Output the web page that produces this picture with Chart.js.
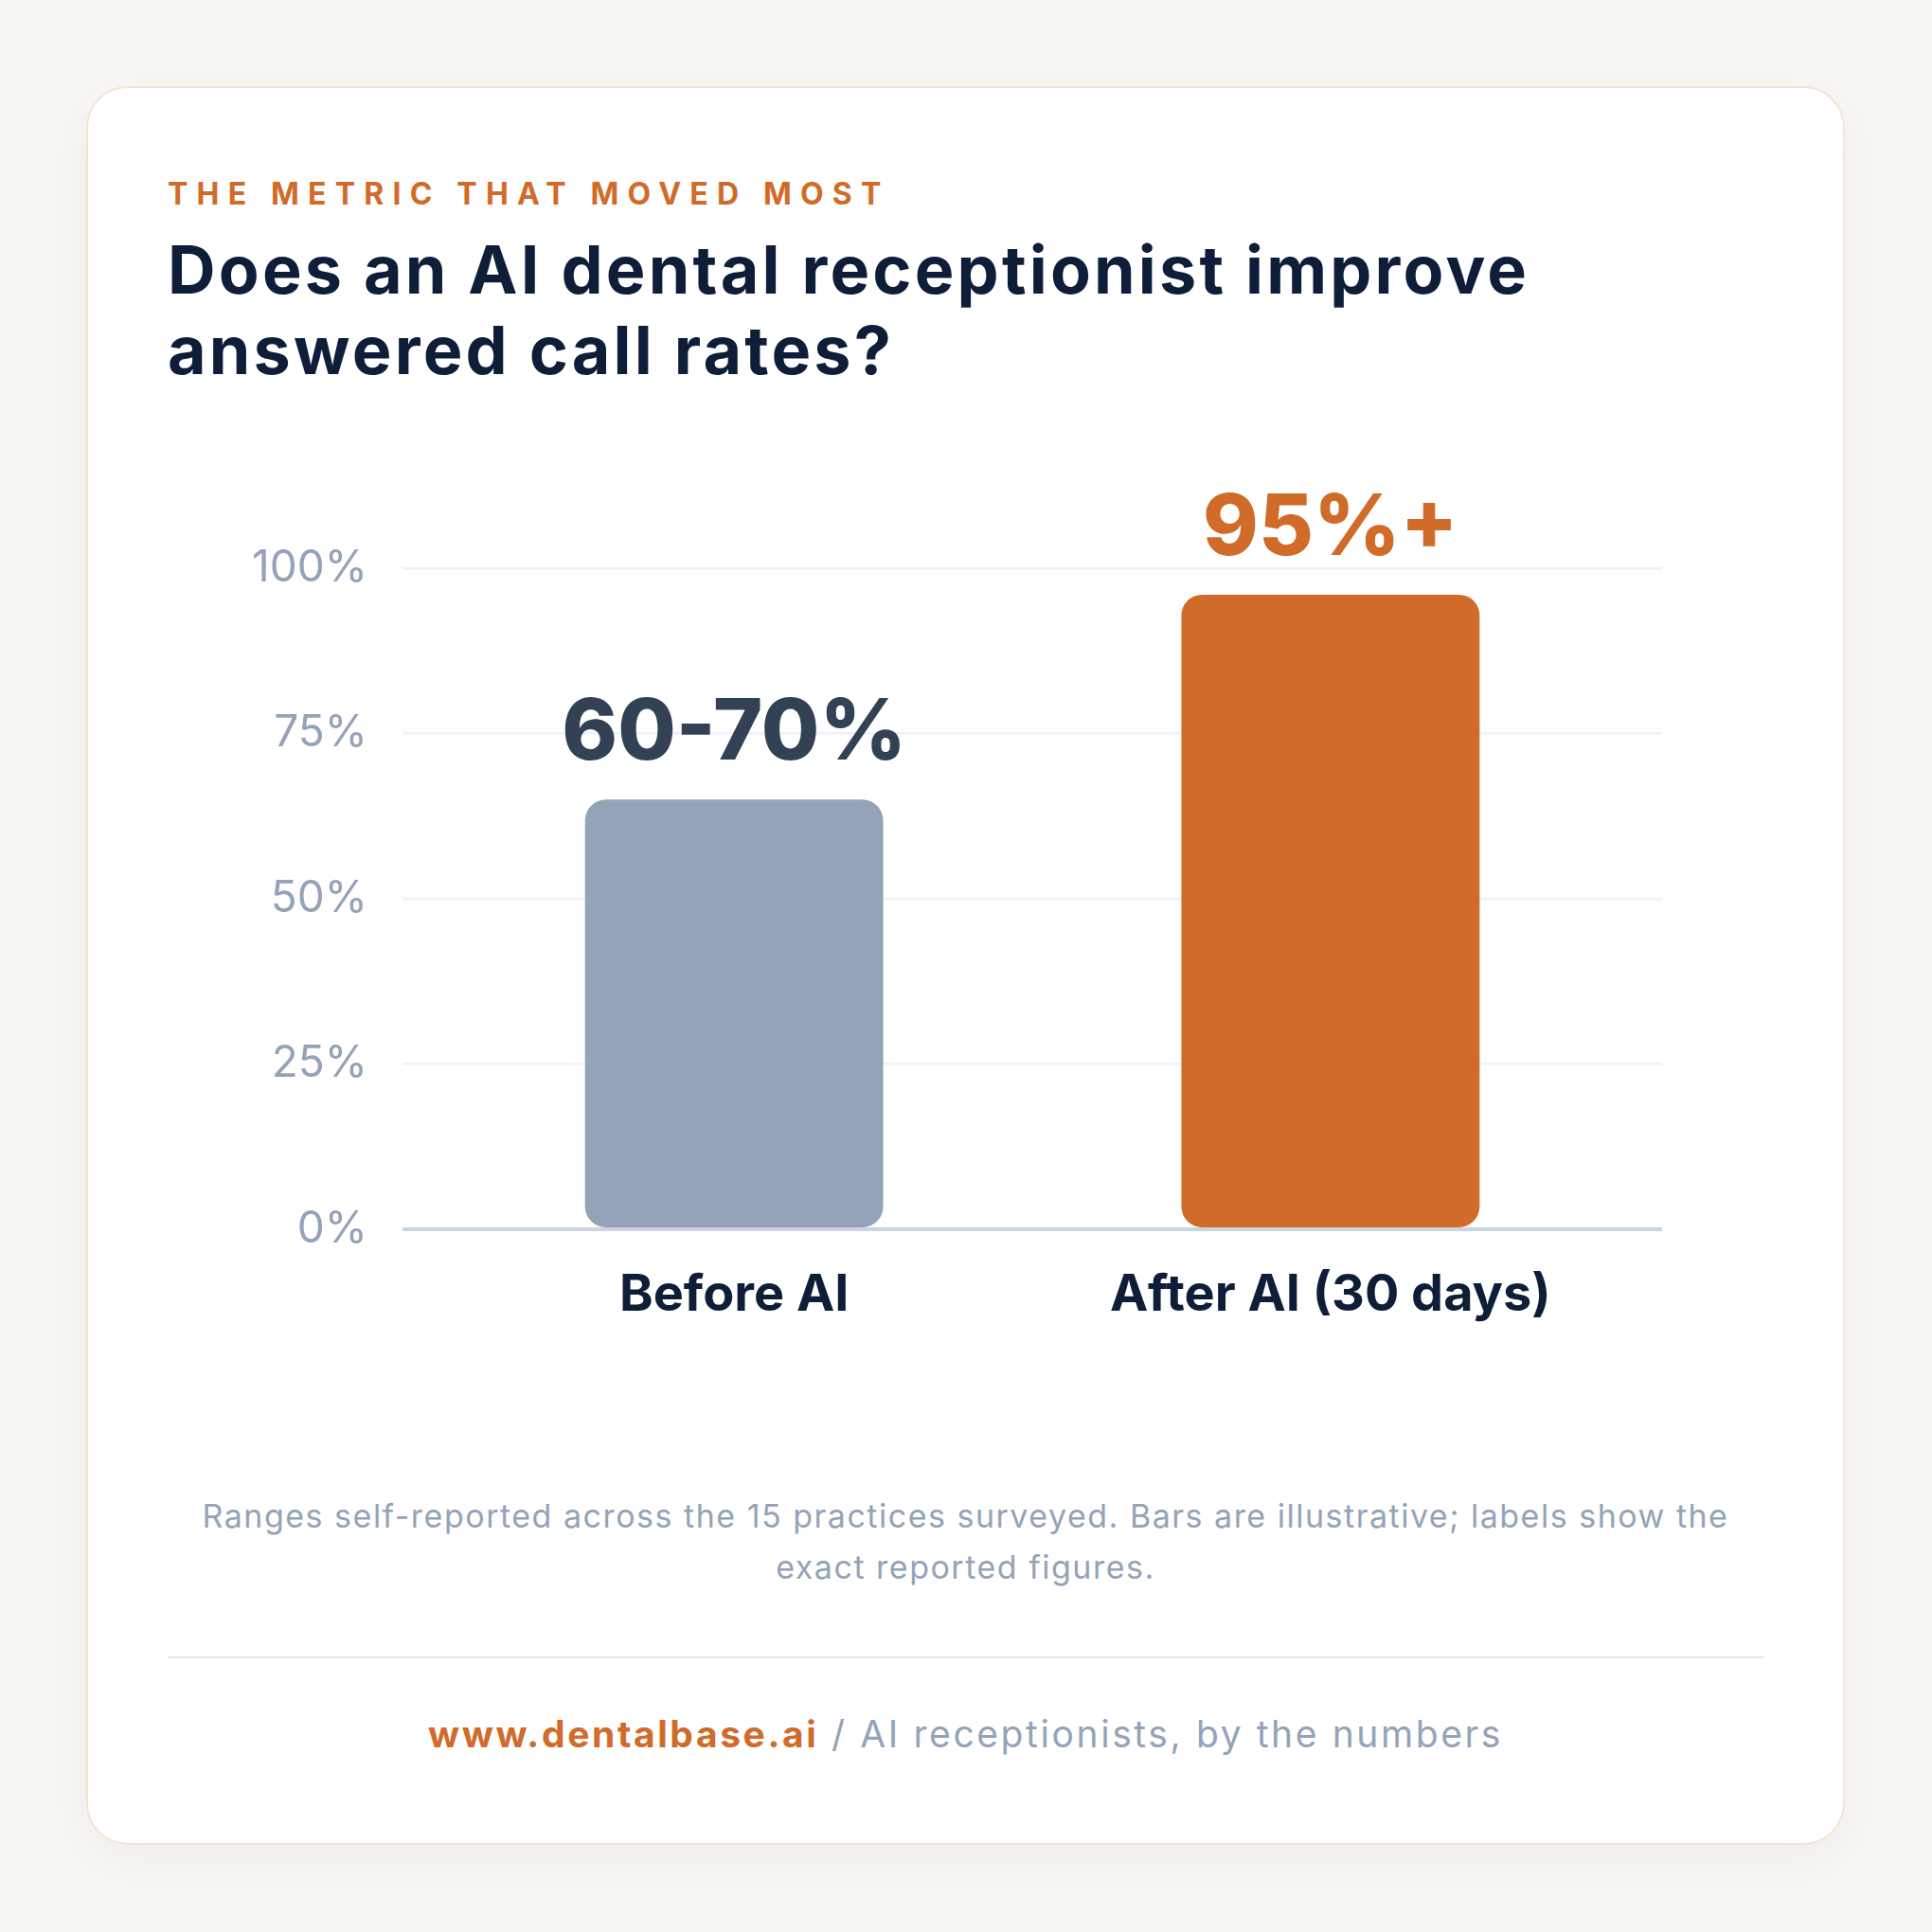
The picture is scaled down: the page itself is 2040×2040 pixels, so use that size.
<!DOCTYPE html>
<html>
<head>
<meta charset="utf-8">
<script src="https://cdn.jsdelivr.net/npm/chart.js@4.4.1/dist/chart.umd.min.js"></script>
<style>
  html, body { margin: 0; padding: 0; }
  body { width: 2040px; height: 2040px; background: #f8f7f4; position: relative; overflow: hidden; font-family: Inter, "Open Sans", sans-serif; }
  .card { position: absolute; left: 91px; top: 91px; width: 1853px; height: 1853px; background: #fff;
          border: 2px solid #f4e4d2; border-radius: 44px; box-shadow: 0 16px 50px rgba(60,40,20,0.05); }
  .kicker { position: absolute; left: 177px; top: 189px; font-size: 32px; line-height: 32px; font-weight: 700;
            letter-spacing: 9.2px; color: #d06b29; white-space: nowrap; }
  .title { position: absolute; left: 177px; top: 242px; font-size: 70px; line-height: 85px; font-weight: 700;
           color: #0f1e38; white-space: nowrap; letter-spacing: 3.2px; }
  .note { position: absolute; left: 91px; width: 1857px; top: 1574px; text-align: center; font-size: 34px;
          line-height: 54px; color: #94a3b8; white-space: nowrap; letter-spacing: 1.5px; }
  .rule { position: absolute; left: 177px; width: 1686px; top: 1749px; height: 2px; background: #f0e5d8; }
  .foot { position: absolute; left: 91px; width: 1857px; top: 1811px; text-align: center; font-size: 39px;
          line-height: 39px; color: #94a3b8; white-space: nowrap; letter-spacing: 2.6px; }
  .foot b { color: #d06b29; font-weight: 700; }
  #wrap { position: absolute; left: 0; top: 0; width: 2040px; height: 2040px; }
</style>
</head>
<body>
<div class="card"></div>
<div class="kicker">THE METRIC THAT MOVED MOST</div>
<div class="title">Does an AI dental receptionist improve<br>answered call rates?</div>
<div class="note">Ranges self-reported across the 15 practices surveyed. Bars are illustrative; labels show the<br>exact reported figures.</div>
<div class="rule"></div>
<div class="foot"><b>www.dentalbase.ai</b> / AI receptionists, by the numbers</div>
<div id="wrap"><canvas id="myChart"></canvas></div>

<script>
const categories = ['Before AI', 'After AI (30 days)'];
const barValues = [65, 96];
const valueLabels = ['60-70%', '95%+'];
const barColors = ['#94a3b8', '#d06b29'];
const labelColors = ['#334155', '#d06b29'];
const FONT = 'Inter, "Open Sans", sans-serif';

// labels above the bars
const valueLabelPlugin = {
  id: 'valueLabels',
  afterDatasetsDraw(chart) {
    const ctx = chart.ctx;
    const meta = chart.getDatasetMeta(0);
    ctx.save();
    ctx.font = '800 89px ' + FONT;
    ctx.textAlign = 'center';
    ctx.textBaseline = 'alphabetic';
    meta.data.forEach((bar, i) => {
      ctx.fillStyle = labelColors[i];
      ctx.fillText(valueLabels[i], bar.x, bar.y - 42);
    });
    ctx.restore();
  }
};

const chartEl = document.getElementById('myChart');
const myChart = new Chart(chartEl, {
  type: 'bar',
  data: {
    datasets: [{
      data: barValues.map((v, i) => ({ x: i, y: v })),
      backgroundColor: barColors,
      borderRadius: 22,
      borderSkipped: false,
      barPercentage: 0.5,
      categoryPercentage: 1
    }]
  },
  options: {
    responsive: true,
    maintainAspectRatio: false,
    animation: false,
    layout: { padding: { left: 200, right: 285, top: 600, bottom: 642 } },
    plugins: { legend: { display: false }, tooltip: { enabled: false } },
    scales: {
      x: {
        type: 'linear',
        offset: false,
        min: -0.556,
        max: 1.556,
        afterBuildTicks: (scale) => { scale.ticks = categories.map((c, i) => ({ value: i })); },
        afterFit: (scale) => { scale.height = 100; },
        grid: { display: false },
        border: { display: false },
        ticks: {
          callback: (v) => categories[v],
          autoSkip: false,
          maxRotation: 0,
          padding: 29,
          color: '#0f1e38',
          font: { family: FONT, size: 54, weight: '700' }
        }
      },
      y: {
        min: 0,
        max: 100,
        afterFit: (scale) => { scale.width = 225; },
        border: { display: false },
        grid: {
          drawTicks: false,
          color: (c) => c.tick.value === 0 ? '#cbd5e1' : '#eef2f7',
          lineWidth: (c) => c.tick.value === 0 ? 4 : 2.5
        },
        ticks: {
          stepSize: 25,
          padding: 37,
          callback: (v) => v + '%',
          color: '#94a3b8',
          font: { family: FONT, size: 46, weight: '400' }
        }
      }
    }
  },
  plugins: [valueLabelPlugin]
});
</script>
</body>
</html>
